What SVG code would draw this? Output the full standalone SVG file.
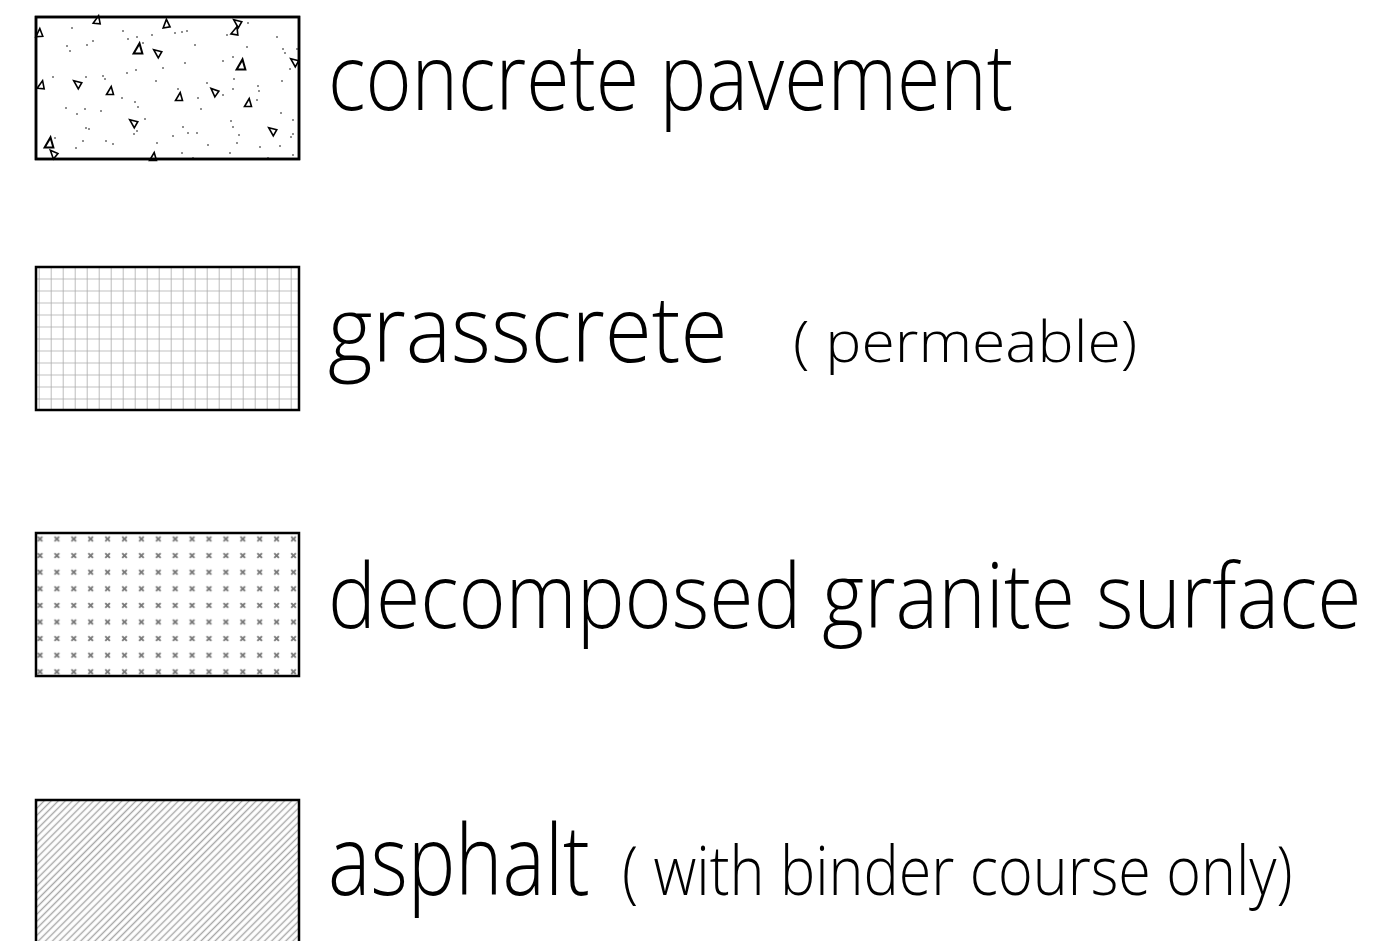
<svg xmlns="http://www.w3.org/2000/svg" width="1379" height="941" viewBox="0 0 1379 941">
<style>
.box{stroke:#000;stroke-width:2.5}
.lbl{font-family:"Open Sans","Liberation Sans",sans-serif;font-weight:300;fill:#000}
.dot{fill:#000}
.tri{fill:none;stroke:#000;stroke-width:1.6}
</style>
<defs>
<pattern id="grid" patternUnits="userSpaceOnUse" x="50.7" y="278.5" width="12" height="12">
<path d="M0,0V12M0,0H12" stroke="#ababab" stroke-width="1.6" fill="none"/>
</pattern>
<pattern id="xs" patternUnits="userSpaceOnUse" x="31.5" y="530.7" width="16.9" height="16.6">
<path d="M6.2,6l4.6,4.6M10.8,6l-4.6,4.6" stroke="#7a7a7a" stroke-width="2" fill="none"/>
</pattern>
<pattern id="hatch" patternUnits="userSpaceOnUse" width="5" height="5" patternTransform="rotate(45)">
<path d="M2.5,-1V6" stroke="#a6a6a6" stroke-width="1.4" fill="none"/>
</pattern>
<path id="t" d="M-3.5,3.5L3.5,3.5L1.2,-4.5Z"/>
</defs>

<g id="concrete-pavement">
<rect x="36" y="17" width="263" height="142" fill="#fff" class="box"/>
<g class="tri">
<use href="#t" transform="translate(97,20) rotate(5)"/>
<use href="#t" transform="translate(166,24) rotate(-10)"/>
<use href="#t" transform="translate(237,23) rotate(-60)"/>
<use href="#t" transform="translate(235,31) rotate(10)"/>
<use href="#t" transform="translate(39,33) rotate(-5)"/>
<use href="#t" transform="translate(138,49) rotate(0) scale(1.25)"/>
<use href="#t" transform="translate(157,53) rotate(-60)"/>
<use href="#t" transform="translate(241,65) rotate(0) scale(1.25)"/>
<use href="#t" transform="translate(294,62) rotate(-60)"/>
<use href="#t" transform="translate(41,85) rotate(5)"/>
<use href="#t" transform="translate(77,84) rotate(-60)"/>
<use href="#t" transform="translate(110,91) rotate(0)"/>
<use href="#t" transform="translate(179,97) rotate(0)"/>
<use href="#t" transform="translate(214,92) rotate(-55)"/>
<use href="#t" transform="translate(248,103) rotate(0)"/>
<use href="#t" transform="translate(133,123) rotate(-60)"/>
<use href="#t" transform="translate(272,131) rotate(-60)"/>
<use href="#t" transform="translate(49,143) scale(1.25)"/>
<use href="#t" transform="translate(53,154) rotate(-50)"/>
<use href="#t" transform="translate(153,157) rotate(0)"/>
</g>
<g class="dot">
<circle cx="72" cy="28" r="0.8"/><circle cx="123" cy="31" r="0.8"/><circle cx="128" cy="39" r="0.8"/><circle cx="137" cy="37" r="0.8"/>
<circle cx="152" cy="35" r="0.8"/><circle cx="175" cy="33" r="0.8"/><circle cx="182" cy="32" r="0.8"/><circle cx="187" cy="31" r="0.8"/>
<circle cx="227" cy="35" r="0.8"/><circle cx="248" cy="23" r="0.8"/><circle cx="277" cy="37" r="0.8"/><circle cx="67" cy="46" r="0.8"/>
<circle cx="70" cy="51" r="0.8"/><circle cx="87" cy="45" r="0.8"/><circle cx="93" cy="41" r="0.8"/><circle cx="143" cy="43" r="0.8"/>
<circle cx="195" cy="45" r="0.8"/><circle cx="223" cy="61" r="0.8"/><circle cx="233" cy="57" r="0.8"/><circle cx="247" cy="47" r="0.8"/>
<circle cx="283" cy="49" r="0.8"/><circle cx="285" cy="53" r="0.8"/><circle cx="297" cy="49" r="0.8"/><circle cx="185" cy="63" r="0.8"/>
<circle cx="163" cy="68" r="0.8"/><circle cx="136" cy="70" r="0.8"/><circle cx="127" cy="73" r="0.8"/><circle cx="290" cy="69" r="0.8"/>
<circle cx="53" cy="77" r="0.8"/><circle cx="86" cy="77" r="0.8"/><circle cx="103" cy="76" r="0.8"/><circle cx="105" cy="79" r="0.8"/>
<circle cx="156" cy="81" r="0.8"/><circle cx="207" cy="83" r="0.8"/><circle cx="234" cy="79" r="0.8"/><circle cx="258" cy="86" r="0.8"/>
<circle cx="259" cy="91" r="0.8"/><circle cx="282" cy="81" r="0.8"/><circle cx="178" cy="89" r="0.8"/><circle cx="223" cy="95" r="0.8"/>
<circle cx="233" cy="89" r="0.8"/><circle cx="198" cy="98" r="0.8"/><circle cx="122" cy="98" r="0.8"/><circle cx="135" cy="102" r="0.8"/>
<circle cx="138" cy="107" r="0.8"/><circle cx="257" cy="100" r="0.8"/><circle cx="66" cy="108" r="0.8"/><circle cx="85" cy="109" r="0.8"/>
<circle cx="77" cy="114" r="0.8"/><circle cx="101" cy="111" r="0.8"/><circle cx="201" cy="109" r="0.8"/><circle cx="281" cy="113" r="0.8"/>
<circle cx="145" cy="119" r="0.8"/><circle cx="231" cy="121" r="0.8"/><circle cx="293" cy="120" r="0.8"/><circle cx="86" cy="128" r="0.8"/>
<circle cx="89" cy="129" r="0.8"/><circle cx="183" cy="127" r="0.8"/><circle cx="137" cy="131" r="0.8"/><circle cx="134" cy="134" r="0.8"/>
<circle cx="188" cy="133" r="0.8"/><circle cx="197" cy="133" r="0.8"/><circle cx="233" cy="127" r="0.8"/><circle cx="239" cy="135" r="0.8"/>
<circle cx="293" cy="134" r="0.8"/><circle cx="291" cy="137" r="0.8"/><circle cx="173" cy="136" r="0.8"/><circle cx="55" cy="138" r="0.8"/>
<circle cx="83" cy="141" r="0.8"/><circle cx="106" cy="141" r="0.8"/><circle cx="113" cy="144" r="0.8"/><circle cx="157" cy="143" r="0.8"/>
<circle cx="208" cy="145" r="0.8"/><circle cx="237" cy="143" r="0.8"/><circle cx="260" cy="147" r="0.8"/><circle cx="280" cy="146" r="0.8"/>
<circle cx="76" cy="148" r="0.8"/><circle cx="182" cy="153" r="0.8"/><circle cx="230" cy="153" r="0.8"/><circle cx="293" cy="155" r="0.8"/>
<circle cx="268" cy="158" r="0.8"/><circle cx="193" cy="158" r="0.8"/>
</g>
<rect x="36" y="17" width="263" height="142" fill="none" class="box"/>
<g transform="translate(328,110) scale(0.85,1)">
<text class="lbl" x="0" y="0" font-size="92" textLength="806" lengthAdjust="spacingAndGlyphs">concrete pavement</text>
</g>
</g>

<g id="grasscrete">
<rect x="36" y="267" width="263" height="143" fill="#fff"/>
<rect x="36" y="267" width="263" height="143" fill="url(#grid)" class="box"/>
<g transform="translate(328,362) scale(0.85,1)">
<text class="lbl" x="0" y="0" font-size="92" textLength="470" lengthAdjust="spacingAndGlyphs">grasscrete</text>
</g>
<g transform="translate(793,362) scale(0.85,1)">
<text class="lbl" x="0" y="0" font-size="58" textLength="405" lengthAdjust="spacingAndGlyphs">( permeable)</text>
</g>
</g>

<g id="decomposed-granite">
<rect x="36" y="533" width="263" height="143" fill="#fff"/>
<rect x="36" y="533" width="263" height="143" fill="url(#xs)" class="box"/>
<g transform="translate(328,628) scale(0.85,1)">
<text class="lbl" x="0" y="0" font-size="90" textLength="1216" lengthAdjust="spacingAndGlyphs">decomposed granite surface</text>
</g>
</g>

<g id="asphalt">
<rect x="36" y="800" width="263" height="150" fill="#fff"/>
<rect x="36" y="800" width="263" height="150" fill="url(#hatch)" class="box"/>
<g transform="translate(328,895) scale(0.85,1)">
<text class="lbl" x="0" y="0" font-size="98" textLength="308" lengthAdjust="spacingAndGlyphs">asphalt</text>
</g>
<g transform="translate(622,895) scale(0.85,1)">
<text class="lbl" x="0" y="0" font-size="68" textLength="789" lengthAdjust="spacingAndGlyphs">( with binder course only)</text>
</g>
</g>

<g id="connectors"/>
</svg>
